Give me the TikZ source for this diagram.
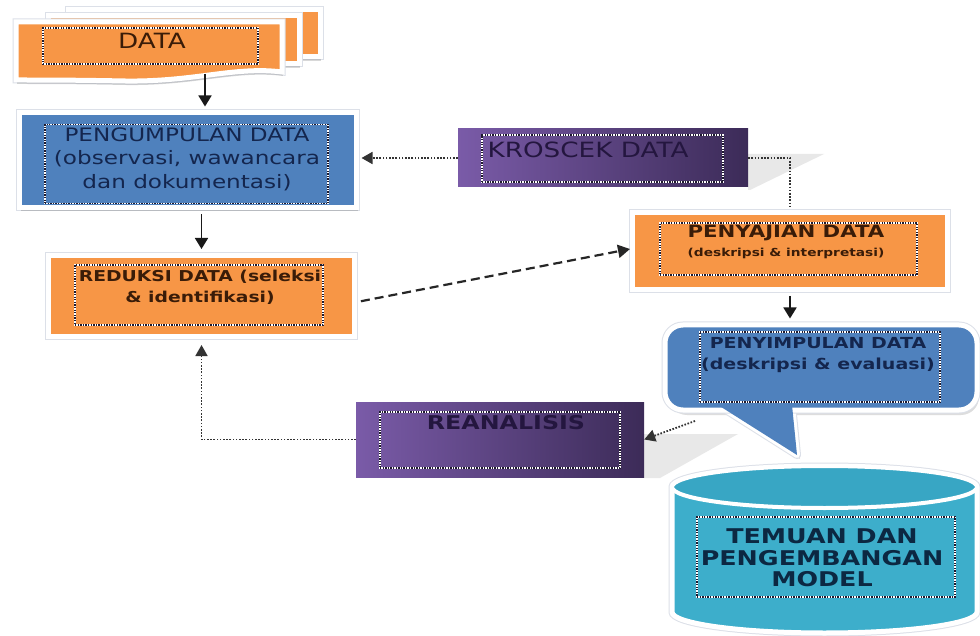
\documentclass[tikz,border=0pt]{standalone}
\usepackage{fontspec}
\setmainfont{DejaVu Sans}[FakeStretch=1.25]
\usetikzlibrary{arrows.meta,shadows}

\definecolor{boxorange}{HTML}{F79646}
\definecolor{boxblue}{HTML}{4F81BD}
\definecolor{purpleL}{HTML}{7A5BA8}
\definecolor{purpleD}{HTML}{3C2B58}
\definecolor{cylbody}{HTML}{3DAECB}
\definecolor{cyltop}{HTML}{38A6C4}
\definecolor{txtbrown}{HTML}{3A1C08}
\definecolor{txtnavy}{HTML}{14264E}
\definecolor{txtpurple}{HTML}{24163F}
\definecolor{txtteal}{HTML}{0C2842}
\definecolor{dotdark}{HTML}{1E1A2E}
\definecolor{rimgray}{HTML}{DCE0E8}

\begin{document}
\begin{tikzpicture}[x=1pt,y=-1pt,
  rim/.style={preaction={draw=rimgray, line width=7pt}},
  framed/.style={rim, draw=white, line width=5pt, inner sep=0pt,
    drop shadow={shadow xshift=2pt, shadow yshift=-3pt, fill=black!60, opacity=0.3}},
  orangebox/.style={framed, fill=boxorange},
  bluebox/.style={framed, fill=boxblue},
  purplebox/.style={inner sep=0pt, left color=purpleL, right color=purpleD},
  docsheet/.style={rim, draw=white, line width=5pt, fill=boxorange,
    drop shadow={shadow xshift=1pt, shadow yshift=-4pt, fill=black!60, opacity=0.25}},
  innerframe/.style={draw=white, line width=1.3pt, inner sep=0pt,
    postaction={draw=dotdark, line width=1.3pt, dash pattern=on 1.3pt off 1.3pt}},
  boxsize/.style 2 args={minimum width=#1, minimum height=#2},
  lbl/.style={inner sep=0pt, align=center},
  arrowsolid/.style={-{Triangle[length=11pt,width=13pt]}, line width=1.7pt, draw=black!90},
  dotconn/.style={-{Triangle[length=11pt,width=12pt]}, line width=1.8pt, draw=black!80,
    dash pattern=on 1.6pt off 1.6pt},
  dashconn/.style={-{Triangle[length=12pt,width=13pt]}, line width=2.2pt, draw=black!85,
    dash pattern=on 9pt off 5pt},
  softshade/.style={fill=black!9}
]
\useasboundingbox[fill=white] (0,0) rectangle (980,636);

% ---------- DATA (stack of sheets) ----------
\path[docsheet] (68,10) rectangle (320,57);
\path[docsheet] (48,16) rectangle (299,64);
\path[docsheet] (16,22) -- (282,22) -- (282,72)
  .. controls (235,66) and (195,82) .. (125,81)
  .. controls (75,80) and (40,80) .. (16,80) -- cycle;
\node[innerframe, boxsize={215pt}{36pt}] (datain) at (150.5,46) {};
\node[lbl, font=\fontsize{21}{21}\selectfont, text=txtbrown] (datatxt) at (152,41) {DATA};
\coordinate (datafoot) at (205,74);

% ---------- PENGUMPULAN DATA ----------
\node[bluebox, boxsize={337pt}{95pt}] (peng) at (187.5,160.5) {};
\node[innerframe, boxsize={283pt}{79pt}] (pengin) at (186.5,164) {};
\node[lbl, font=\fontsize{18.5}{23.5}\selectfont, text=txtnavy] (pengtxt) at (187,159)
  {PENGUMPULAN DATA\\(observasi, wawancara\\dan dokumentasi)};

% ---------- REDUKSI DATA ----------
\node[orangebox, boxsize={306pt}{81pt}] (red) at (201.5,296) {};
\node[innerframe, boxsize={248pt}{60pt}] (redin) at (199,295) {};
\node[lbl, font=\bfseries\fontsize{15}{21}\selectfont, text=txtbrown] (redtxt) at (200,287)
  {REDUKSI DATA (seleksi\\\& identifikasi)};

% ---------- KROSCEK DATA ----------
\path[softshade] (748,154) -- (824,154) -- (750,190) -- (748,190) -- cycle;
\node[purplebox, boxsize={290pt}{58pt}] (kro) at (603,158) {};
\node[innerframe, boxsize={241pt}{47pt}] (kroin) at (602.5,158.5) {};
\node[lbl, font=\fontsize{21}{21}\selectfont, text=txtpurple] (krotxt) at (588,150) {KROSCEK DATA};

% ---------- PENYAJIAN DATA ----------
\node[orangebox, boxsize={315pt}{77pt}] (pj) at (790,251) {};
\node[innerframe, boxsize={257pt}{52pt}] (pjin) at (788.5,249) {};
\node[lbl, font=\bfseries\fontsize{17}{17}\selectfont, text=txtbrown] (pjtxt) at (786,233) {PENYAJIAN DATA};
\node[lbl, font=\bfseries\fontsize{11}{11}\selectfont, text=txtbrown] (pjsub) at (786,253) {(deskripsi \& interpretasi)};

% ---------- REANALISIS ----------
\path[softshade] (644,434) -- (738,434) -- (660,478) -- (644,478) -- cycle;
\node[purplebox, boxsize={288pt}{75pt}] (rea) at (500,439.5) {};
\node[innerframe, boxsize={240pt}{56pt}] (reain) at (500,440) {};
\node[lbl, font=\bfseries\fontsize{19}{19}\selectfont, text=txtpurple] (reatxt) at (506,423) {REANALISIS};

% ---------- PENYIMPULAN DATA (callout) ----------
\fill[black!60, opacity=0.22, rounded corners=18pt] (669,330) rectangle (979,415);
\fill[black!60, opacity=0.22] (722,410) -- (800,459) -- (796,410) -- cycle;
\path[draw=rimgray, line width=8pt, line join=round] (718,405) -- (797,455) -- (792,405) -- cycle;
\path[draw=white, line width=6pt, line join=round, fill=boxblue] (718,405) -- (797,455) -- (792,405) -- cycle;
\node[rim, draw=white, line width=5pt, fill=boxblue, rounded corners=18pt, inner sep=0pt,
  boxsize={312pt}{85pt}] (sim) at (821,367.5) {};
\fill[boxblue] (718,405) -- (797,455) -- (792,405) -- cycle;
\node[innerframe, boxsize={240pt}{70pt}] (simin) at (820,367) {};
\node[lbl, font=\bfseries\fontsize{15.2}{21}\selectfont, text=txtnavy] (simtxt) at (818,355.5)
  {PENYIMPULAN DATA\\(deskripsi \& evaluasi)};
\coordinate (simout) at (695,421);

% ---------- TEMUAN DAN PENGEMBANGAN MODEL (cylinder) ----------
\path[rim, draw=white, line width=5pt, fill=cylbody]
  (672,487) -- (672,612) arc[start angle=180, end angle=360, x radius=152.5pt, y radius=21pt]
  -- (977,487) arc[start angle=0, end angle=180, x radius=152.5pt, y radius=21pt] -- cycle;
\path[draw=white, line width=4pt, fill=cyltop] (824.5,487) ellipse [x radius=152.5pt, y radius=21pt];
\node[innerframe, boxsize={258pt}{80pt}] (temin) at (826,557) {};
\node[lbl, font=\bfseries\fontsize{20.3}{21.5}\selectfont, text=txtteal] (temtxt) at (822,558)
  {TEMUAN DAN\\PENGEMBANGAN\\MODEL};

% ---------- connectors ----------
\draw[arrowsolid, shorten >=4pt] (datafoot) -- (datafoot |- peng.north);
\draw[arrowsolid, shorten <=4pt, shorten >=4pt] (peng.south -| red.north) -- (red.north);
\draw[dashconn, shorten <=4pt] ([yshift=-6pt]red.east) -- ([yshift=2pt]pj.west);
\draw[dotconn, shorten >=3pt] (kro.west) -- (kro.west -| peng.east);
\draw[dotconn, -, shorten >=3pt] (kro.east) -| (pj.north);
\draw[arrowsolid, shorten <=4pt, shorten >=4pt] (pj.south) -- (pj.south |- sim.north);
\draw[dotconn] (simout) -- (rea.east);
\draw[dotconn] (rea.west) -| ([yshift=-6pt]red.south);
\end{tikzpicture}
\end{document}
